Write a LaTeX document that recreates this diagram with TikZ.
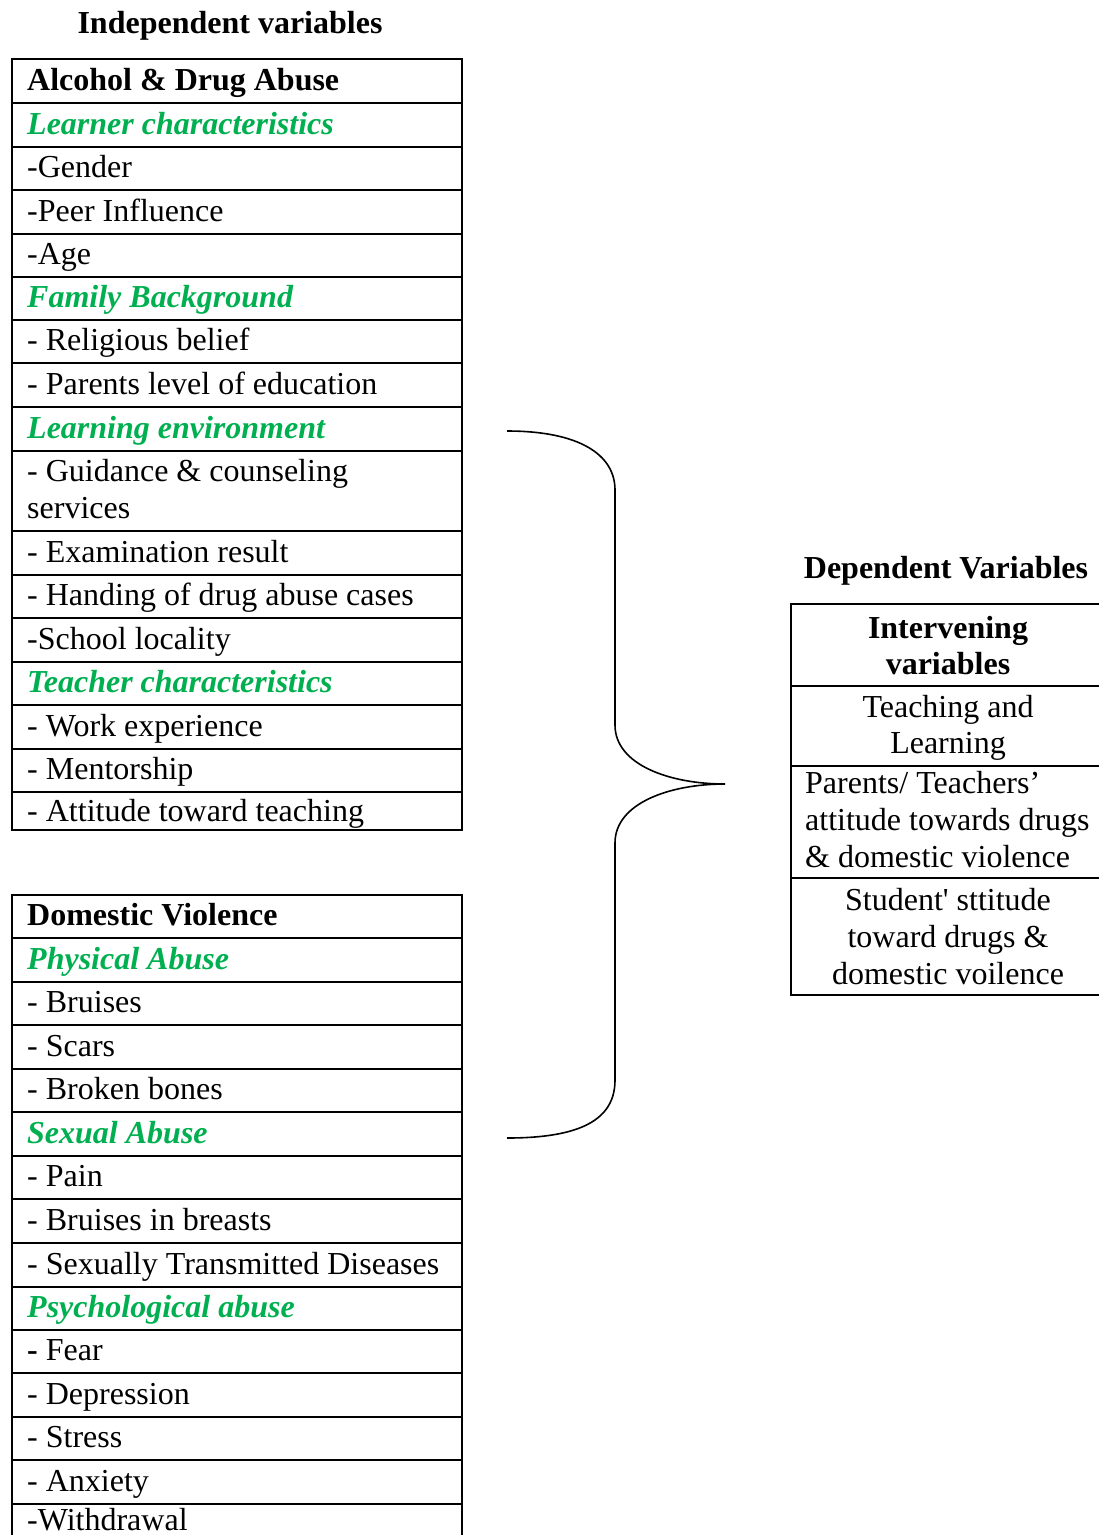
\documentclass[tikz,border=0pt]{standalone}
\usepackage{fontspec}
\setmainfont{Liberation Serif}
\definecolor{lgreen}{HTML}{00B050}
\tikzset{
  cellbox/.style={draw, line width=1.6pt, inner sep=0pt, anchor=north west, minimum width=450pt},
  rcellbox/.style={draw, line width=1.6pt, inner sep=0pt, anchor=north west, minimum width=316pt},
  plain/.style={inner sep=0pt},
  hdr/.style={inner sep=0pt, font=\fontsize{32}{37}\selectfont\bfseries},
  grn/.style={inner sep=0pt, text=lgreen, font=\fontsize{32}{37}\selectfont\bfseries\itshape},
  bracepath/.style={draw, line width=1.6pt}
}
% name, top, bottom, style, text
\newcommand{\lrow}[5]{%
  \node[cellbox, minimum height={#3-#2}] (#1) at (11,#2) {};
  \node[#4, anchor=base west] (#1t) at (27,{#3-12}) {#5};
}
\begin{document}
\begin{tikzpicture}[x=1pt, y=-1pt, font=\fontsize{32}{37}\selectfont]
\useasboundingbox (0,0) rectangle (1099,1535);

\node[hdr, anchor=base] (indep) at (230,33) {Independent variables};
\node[hdr, anchor=base] (dep) at (946,578) {Dependent Variables};

% Table 1
\lrow{a1}{58}{102}{hdr}{Alcohol \& Drug Abuse}
\lrow{a2}{102}{146}{grn}{Learner characteristics}
\lrow{a3}{146}{189}{plain}{-Gender}
\lrow{a4}{189}{233}{plain}{-Peer Influence}
\lrow{a5}{233}{276}{plain}{-Age}
\lrow{a6}{276}{319}{grn}{Family Background}
\lrow{a7}{319}{362}{plain}{- Religious belief}
\lrow{a8}{362}{406}{plain}{- Parents level of education}
\lrow{a9}{406}{450}{grn}{Learning environment}
\node[cellbox, minimum height=80pt] (a10) at (11,450) {};
\node[plain, anchor=base west] (a10t) at (27,481) {- Guidance \& counseling};
\node[plain, anchor=base west] (a10u) at (27,518) {services};
\lrow{a11}{530}{574}{plain}{- Examination result}
\lrow{a12}{574}{617}{plain}{- Handing of drug abuse cases}
\lrow{a13}{617}{661}{plain}{-School locality}
\lrow{a14}{661}{704}{grn}{Teacher characteristics}
\lrow{a15}{704}{748}{plain}{- Work experience}
\lrow{a16}{748}{791}{plain}{- Mentorship}
\node[cellbox, minimum height=38pt] (a17) at (11,791) {};
\node[plain, anchor=base west] (a17t) at (27,821) {- Attitude toward teaching};

% Table 2
\lrow{b1}{894}{937}{hdr}{Domestic Violence}
\lrow{b2}{937}{981}{grn}{Physical Abuse}
\lrow{b3}{981}{1024}{plain}{- Bruises}
\lrow{b4}{1024}{1068}{plain}{- Scars}
\lrow{b5}{1068}{1111}{plain}{- Broken bones}
\lrow{b6}{1111}{1155}{grn}{Sexual Abuse}
\lrow{b7}{1155}{1198}{plain}{- Pain}
\lrow{b8}{1198}{1242}{plain}{- Bruises in breasts}
\lrow{b9}{1242}{1286}{plain}{- Sexually Transmitted Diseases}
\lrow{b10}{1286}{1329}{grn}{Psychological abuse}
\lrow{b11}{1329}{1372}{plain}{\textbf{-} Fear}
\lrow{b12}{1372}{1416}{plain}{- Depression}
\lrow{b13}{1416}{1459}{plain}{- Stress}
\lrow{b14}{1459}{1503}{plain}{- Anxiety}
\node[cellbox, minimum height=45pt] (b15) at (11,1503) {};
\node[plain, anchor=base west] (b15t) at (27,1530) {-Withdrawal};

% Right table
\node[rcellbox, minimum height=82pt] (c1) at (790,603) {};
\node[hdr, anchor=base] (c1t) at (948,638) {Intervening};
\node[hdr, anchor=base] (c1u) at (948,674) {variables};
\node[rcellbox, minimum height=80pt] (c2) at (790,685) {};
\node[plain, anchor=base] (c2t) at (948,717) {Teaching and};
\node[plain, anchor=base] (c2u) at (948,753) {Learning};
\node[rcellbox, minimum height=112pt] (c3) at (790,765) {};
\node[plain, anchor=base west] (c3t) at (805,793) {Parents/ Teachers’};
\node[plain, anchor=base west] (c3u) at (805,830) {attitude towards drugs};
\node[plain, anchor=base west] (c3v) at (805,867) {\& domestic violence};
\node[rcellbox, minimum height=117pt] (c4) at (790,877) {};
\node[plain, anchor=base] (c4t) at (948,910) {Student\textquotesingle\ sttitude};
\node[plain, anchor=base] (c4u) at (948,947) {toward drugs \&};
\node[plain, anchor=base] (c4v) at (948,984) {domestic voilence};

% Brace
\coordinate (btop) at (507,431);
\coordinate (bup1) at (615,490);
\coordinate (bup2) at (615,725);
\coordinate (btip) at (725,784);
\coordinate (blo1) at (615,843);
\coordinate (blo2) at (615,1080);
\coordinate (bbot) at (507,1138);
\draw[bracepath] (btop) .. controls (580,431) and (615,455) .. (bup1)
  -- (bup2) .. controls (615,765) and (670,784) .. (btip)
  .. controls (670,784) and (615,803) .. (blo1)
  -- (blo2) .. controls (615,1120) and (580,1138) .. (bbot);
\end{tikzpicture}
\end{document}
